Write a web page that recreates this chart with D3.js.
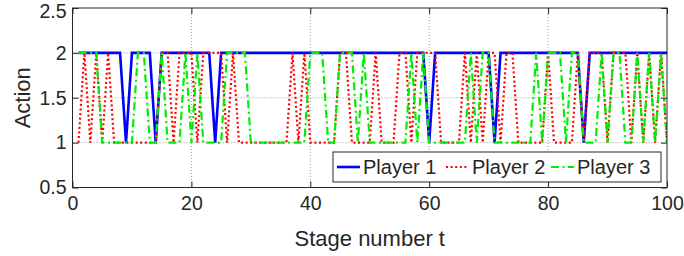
<!DOCTYPE html>
<html>
<head>
<meta charset="utf-8">
<script src="https://cdn.jsdelivr.net/npm/d3@7"></script>
<style>
	body { margin: 0; background: #fff; }
	text { font-family: Arial, "Liberation Sans", sans-serif; fill: #262626; }
</style>
</head>
<body>
<div id="chart-area"></div>
<script>

// values, one per stage t = 1..100
let stages = d3.range(1, 101);

let player1 = [
	2,2,2,2,2,2,2,2,1,2,
	2,2,2,1,2,2,2,2,2,2,
	2,2,2,1,2,2,2,2,2,2,
	2,2,2,2,2,2,2,2,2,2,
	2,2,2,2,2,2,2,2,2,2,
	2,2,2,2,2,2,2,2,2,1,
	2,2,2,2,2,2,2,2,2,2,
	1,2,2,2,2,2,2,2,2,2,
	2,2,2,2,2,1,2,2,2,2,
	2,2,2,2,2,2,2,2,2,2
];

let player2 = [
	1,2,1,2,1,2,1,1,1,1,
	1,1,1,1,2,2,1,2,2,2,
	1,2,2,2,2,1,2,1,1,1,
	1,1,1,1,1,1,2,1,2,1,
	1,1,1,1,2,2,1,1,1,1,
	2,1,1,1,2,2,1,2,2,2,
	2,1,1,1,1,2,1,2,1,2,
	2,1,2,2,1,1,1,1,1,2,
	1,1,1,1,2,1,2,2,2,1,
	2,2,2,1,2,1,2,1,2,1
];

let player3 = [
	2,2,2,2,1,1,1,1,1,1,
	2,2,1,1,2,1,1,1,2,1,
	2,1,1,1,1,2,2,2,2,1,
	1,1,1,1,1,1,1,1,1,2,
	2,2,1,1,2,2,2,1,2,1,
	1,1,1,1,1,1,2,1,2,1,
	1,1,1,1,1,1,2,1,2,2,
	1,1,1,1,1,1,1,2,1,2,
	2,2,1,2,2,1,1,1,2,1,
	2,2,1,1,2,1,2,1,2,1
];

let seriesNames = ["Player 1", "Player 2", "Player 3"];
let xTicks = [0, 20, 40, 60, 80, 100];
let yTicks = [0.5, 1, 1.5, 2, 2.5];

// margin conventions
let margin = {top: 8, right: 17, bottom: 68.5, left: 72.5};
let width = 684 - margin.left - margin.right;
let height = 256 - margin.top - margin.bottom;

let svg = d3.select("#chart-area").append("svg")
		.attr("width", width + margin.left + margin.right)
		.attr("height", height + margin.top + margin.bottom)
	.append("g")
		.attr("transform", "translate(" + margin.left + "," + margin.top + ")");

let xScale = d3.scaleLinear().domain([0, 100]).range([0, width]);
let yScale = d3.scaleLinear().domain([0.5, 2.5]).range([height, 0]);

// dotted grid
svg.append("g").attr("class", "grid")
	.selectAll("line.vx")
	.data(xTicks.slice(1, -1))
	.enter().append("line")
	.attr("x1", d => xScale(d)).attr("x2", d => xScale(d))
	.attr("y1", 0).attr("y2", height)
	.attr("stroke", "#9a9a9a").attr("stroke-width", 1)
	.attr("stroke-dasharray", "1,2");

svg.select(".grid")
	.selectAll("line.hy")
	.data(yTicks.slice(1, -1))
	.enter().append("line")
	.attr("x1", 0).attr("x2", width)
	.attr("y1", d => yScale(d)).attr("y2", d => yScale(d))
	.attr("stroke", "#9a9a9a").attr("stroke-width", 1)
	.attr("stroke-dasharray", "1,2");

// axes, ticks pointing inward like matlab
let xAxis = d3.axisBottom(xScale).tickValues(xTicks).tickSizeInner(-6).tickSizeOuter(0).tickPadding(9);
let yAxis = d3.axisLeft(yScale).tickValues(yTicks).tickSizeInner(-6).tickSizeOuter(0).tickPadding(6)
	.tickFormat(d => d);

let xAxisGroup = svg.append("g")
	.attr("transform", "translate(0," + height + ")")
	.call(xAxis);
let yAxisGroup = svg.append("g").call(yAxis);

svg.append("g").call(d3.axisTop(xScale).tickValues(xTicks).tickSizeInner(-6).tickSizeOuter(0).tickFormat(""));
svg.append("g").attr("transform", "translate(" + width + ",0)")
	.call(d3.axisRight(yScale).tickValues(yTicks).tickSizeInner(-6).tickSizeOuter(0).tickFormat(""));

svg.selectAll(".domain").remove();
svg.selectAll(".tick line").attr("stroke", "#262626");
svg.selectAll(".tick text").attr("font-size", 19.5).attr("fill", "#262626")
	.style("font-family", "Arial, 'Liberation Sans', sans-serif");

// keep the top y label inside the picture
yAxisGroup.selectAll(".tick text").filter(d => d === 2.5).attr("dy", "0.5em");

// the lines
svg.append("clipPath").attr("id", "plot-clip")
	.append("rect").attr("width", width).attr("height", height);

let series = [
	{name: seriesNames[0], values: player1, color: "#0000ff", dash: null, w: 2.6},
	{name: seriesNames[1], values: player2, color: "#ff0000", dash: "2,2.6", w: 2.2},
	{name: seriesNames[2], values: player3, color: "#00ee00", dash: "8,3.5,2,3.5", w: 2.2}
];

let line = d3.line()
	.x((d, i) => xScale(stages[i]))
	.y(d => yScale(d));

svg.append("g").attr("clip-path", "url(#plot-clip)")
	.selectAll("path.line-path")
	.data(series)
	.enter().append("path")
	.attr("class", "line-path")
	.attr("d", d => line(d.values))
	.attr("fill", "none")
	.attr("stroke", d => d.color)
	.attr("stroke-width", d => d.w)
	.attr("stroke-dasharray", d => d.dash)
	.attr("stroke-linejoin", "miter");

// frame
svg.append("rect")
	.attr("width", width).attr("height", height)
	.attr("fill", "none").attr("stroke", "#262626").attr("stroke-width", 1);

// legend
let legend = svg.append("g").attr("transform", "translate(" + (333 - margin.left) + "," + (152 - margin.top) + ")");
legend.append("rect")
	.attr("width", 328).attr("height", 30)
	.attr("fill", "#fff").attr("stroke", "#262626").attr("stroke-width", 1);

let legendX = [4, 113, 218];
let entries = legend.selectAll("g.entry")
	.data(series)
	.enter().append("g")
	.attr("class", "entry")
	.attr("transform", (d, i) => "translate(" + legendX[i] + ",0)");

entries.append("line")
	.attr("x1", 0).attr("x2", 23)
	.attr("y1", 15).attr("y2", 15)
	.attr("stroke", d => d.color)
	.attr("stroke-width", d => d.w)
	.attr("stroke-dasharray", d => d.dash);

entries.append("text")
	.attr("x", 26).attr("y", 22)
	.attr("font-size", 20)
	.text(d => d.name);

// axis titles
svg.append("text")
	.attr("x", width / 2).attr("y", height + 58)
	.attr("text-anchor", "middle")
	.attr("font-size", 22)
	.text("Stage number t");

svg.append("text")
	.attr("transform", "translate(" + (30 - margin.left) + "," + (height / 2) + ") rotate(-90)")
	.attr("text-anchor", "middle")
	.attr("font-size", 22)
	.text("Action");

</script>
</body>
</html>
